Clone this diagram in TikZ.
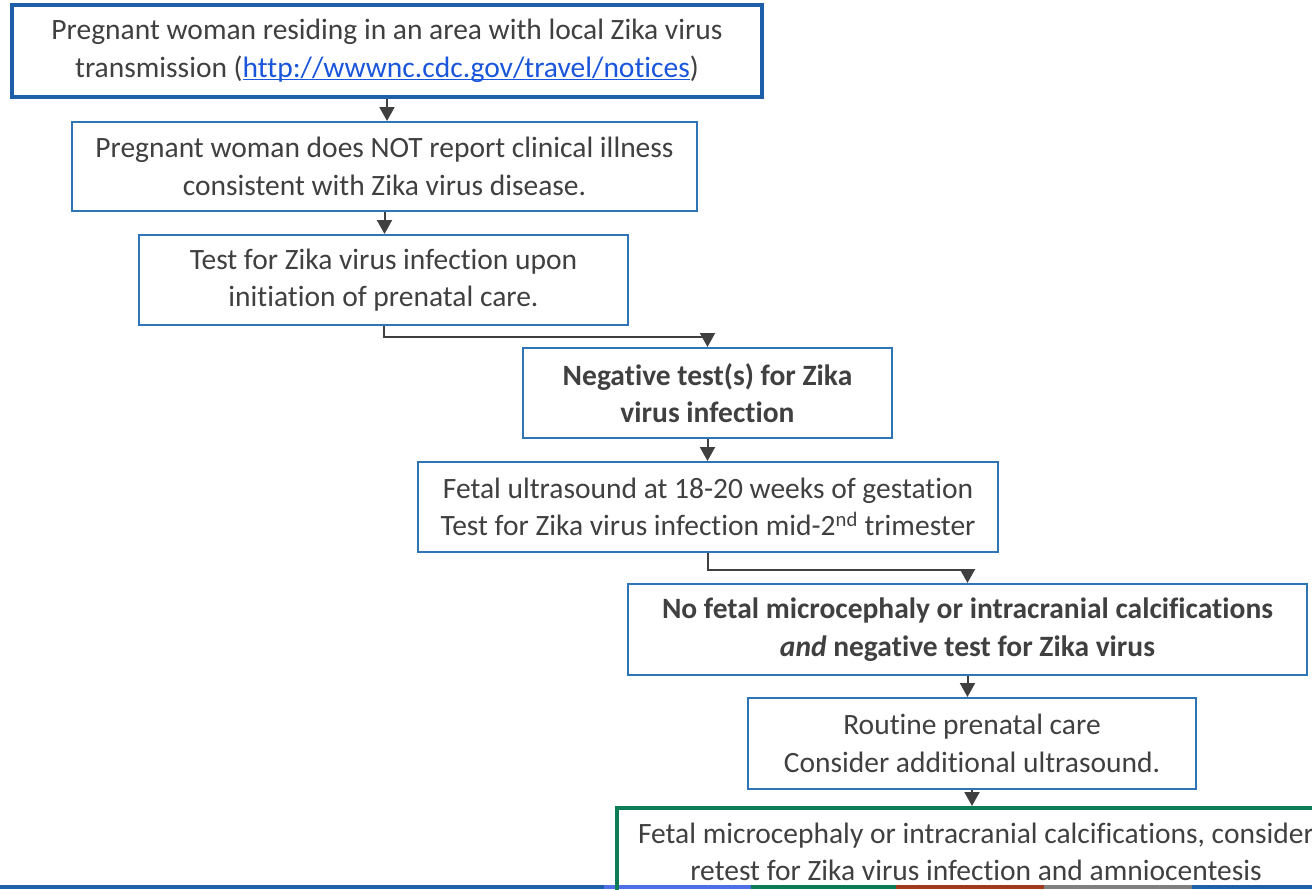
\documentclass[tikz,border=0pt]{standalone}
\usepackage{fontspec}
\setmainfont{Carlito}[Ligatures=NoCommon]
\usetikzlibrary{arrows.meta}
\definecolor{boxblue}{HTML}{2E75B6}
\definecolor{topblue}{HTML}{1F5FAA}
\definecolor{txt}{HTML}{404040}
\definecolor{arr}{HTML}{404040}
\definecolor{linkblue}{HTML}{1A56DB}
\definecolor{zgreen}{HTML}{0B7C55}
\definecolor{lblue}{HTML}{4F6FE8}
\definecolor{zred}{HTML}{A0391F}
\definecolor{zgray}{HTML}{808080}
\newcommand{\linkul}[1]{\textcolor{linkblue}{\rlap{\rule[-3pt]{\widthof{#1}}{1.3pt}}#1}}
\usepackage{calc}
\begin{document}
\begin{tikzpicture}[x=1pt,y=-1pt,
  box/.style={draw=boxblue,line width=2pt,fill=white,align=center,text=txt,inner sep=0pt,
    font=\fontsize{29.5}{37.5}\selectfont},
  conn/.style={draw=arr,line width=2pt,-{Triangle[length=14pt,width=15pt]}}]
\useasboundingbox (0,0) rectangle (1312,889);
% bottom strip
\fill[topblue] (0,884.5) rectangle (604,889);
\fill[lblue] (604,884.5) rectangle (751,889);
\fill[zgreen] (751,884.5) rectangle (896,889);
\fill[zred] (896,884.5) rectangle (1044,889);
\fill[zgray] (1044,884.5) rectangle (1192,889);
\fill[topblue] (1192,884.5) rectangle (1312,889);

\node[box,draw=topblue,line width=4pt,minimum width=750pt,minimum height=92pt] (n1) at (387,51)
  {Pregnant woman residing in an area with local Zika virus\\transmission (\linkul{http://wwwnc.cdc.gov/travel/notices})};
\node[box,minimum width=625pt,minimum height=89pt] (n2) at (384.5,166.5)
  {Pregnant woman does NOT report clinical illness\\consistent with Zika virus disease.};
\node[box,minimum width=489pt,minimum height=90pt] (n3) at (383.5,280)
  {Test for Zika virus infection upon\\initiation of prenatal care.};
\node[box,minimum width=369pt,minimum height=90pt] (n4) at (707.5,393)
  {\textbf{Negative test(s) for Zika}\\\textbf{virus infection}};
\node[box,minimum width=580pt,minimum height=90pt] (n5) at (708,507)
  {Fetal ultrasound at 18-20 weeks of gestation\\Test for Zika virus infection mid-2\textsuperscript{nd} trimester};
\node[box,minimum width=679pt,minimum height=91pt] (n6) at (967.5,629.5)
  {\textbf{No fetal microcephaly or intracranial calcifications}\\\textbf{\textit{and} negative test for Zika virus}};
\node[box,minimum width=448pt,minimum height=91pt] (n7) at (972,743.5)
  {Routine prenatal care\\Consider additional ultrasound.};
\node[box,fill=none,draw=zgreen,line width=4pt,minimum width=718pt,minimum height=88pt] (n8) at (976,852)
  {Fetal microcephaly or intracranial calcifications, consider\\retest for Zika virus infection and amniocentesis};

\draw[conn] (n1.south) -- (n1.south |- n2.north);
\draw[conn] (n2.south) -- (n2.south |- n3.north);
\draw[conn] (n3.south) -- ++(0,11) -| (n4.north);
\draw[conn] (n4.south) -- (n4.south |- n5.north);
\draw[conn] (n5.south) -- ++(0,17) -| (n6.north);
\draw[conn] (n6.south) -- (n6.south |- n7.north);
\draw[conn] (n7.south) -- (n7.south |- n8.north);
\end{tikzpicture}
\end{document}
